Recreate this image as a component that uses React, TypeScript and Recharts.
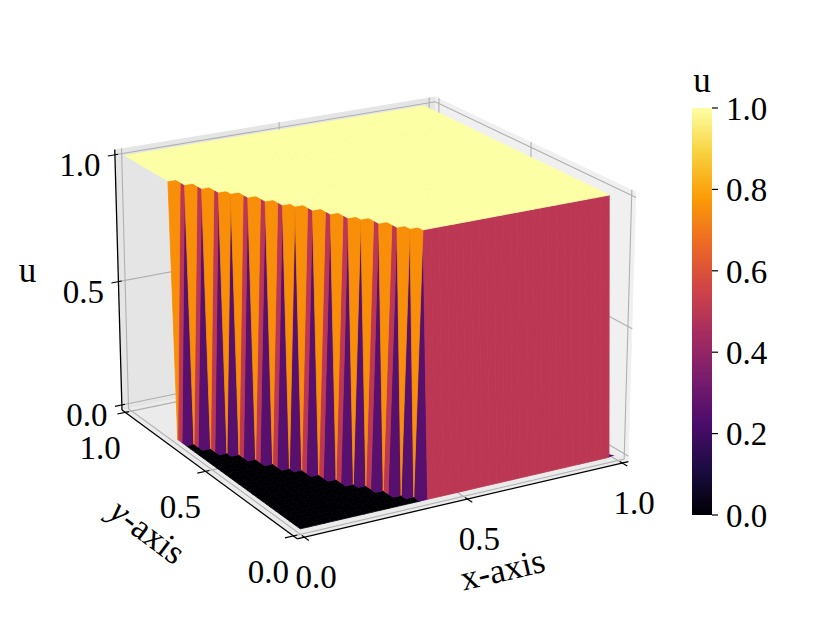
import { Bar, BarChart, Scatter, ScatterChart, XAxis, YAxis } from "recharts"

// mesh of the surface
const xGrid = [0, 0.024, 0.049, 0.073, 0.097, 0.121, 0.146, 0.17, 0.194, 0.218, 0.243, 0.267, 0.291, 0.315, 0.34, 0.364, 0.388, 0.412, 0.437, 0.461, 0.485, 0.509, 0.534, 0.558, 0.582, 0.606, 0.631, 0.655, 0.679, 0.703, 0.728, 0.752, 0.776, 0.8, 0.825, 0.849, 0.873, 0.897, 0.922, 0.946, 0.97]
const yGrid = [0, 0.032, 0.058, 0.084, 0.11, 0.136, 0.162, 0.188, 0.214, 0.24, 0.266, 0.292, 0.318, 0.344, 0.37, 0.396, 0.422, 0.448, 0.474, 0.5, 0.526, 0.552, 0.578, 0.604, 0.63, 0.656, 0.682, 0.708, 0.734, 0.76, 0.786, 0.812, 0.838, 0.864, 0.89, 0.916, 0.958, 1]
// first row (per x column) where u jumps from 0 to 1
const frontRow = [28, 26, 24, 22, 21, 19, 17, 15, 14, 12, 10, 8, 7, 5, 3, 2, 1, 1, 1, 1, 1, 1, 1, 1, 1, 1, 1, 1, 1, 1, 1, 1, 1, 1, 1, 1, 1, 1, 1, 1, 1]
// small purple sliver at the foot of the wall, far right
const sliver: [number, number, number][] = [[0.97, 0, 0.012], [0.988, 0, 0.002], [0.97, 0, 0]]

const axisTicks = [0, 0.5, 1]
const colorbarTicks = [0, 0.2, 0.4, 0.6, 0.8, 1]
const colorbarData = [{ name: "u", top: 1 }]
const infernoStops = ["#000004", "#1b0c41", "#4a0c6b", "#781c6d", "#a52c60", "#cf4446", "#ed6925", "#fb9b06", "#f7d13d", "#fcffa4"]
// face colour for 0, 1, 2, 3, 4 corners at u = 1
const faceColors = ["#000004", "#57106e", "#bc3754", "#f98e09", "#fcffa4"]

const FONT = "'Liberation Serif', serif"
const FONT_SIZE = 33
const TITLE_SIZE = 35
const WIDTH = 830
const HEIGHT = 623

// same camera as a 3d axes: elev 20, azim -120, dist 10
const ELEV = (20 * Math.PI) / 180
const AZIM = (-120 * Math.PI) / 180
const BOX = [1.1429, 1.1429, 0.8571]
const LO = -1 / 48
const HI = 1 + 1 / 48
const SCALE = 3290
const CX = 370.3
const CY = 304.7

type P3 = [number, number, number]

const w = [Math.cos(ELEV) * Math.cos(AZIM), Math.cos(ELEV) * Math.sin(AZIM), Math.sin(ELEV)]
const u = [-w[1] / Math.hypot(w[0], w[1]), w[0] / Math.hypot(w[0], w[1]), 0]
const v = [w[1] * u[2] - w[2] * u[1], w[2] * u[0] - w[0] * u[2], w[0] * u[1] - w[1] * u[0]]

function toCamera(p: P3) {
  const d = p.map((val, i) => (((val - LO) / (HI - LO)) - 0.5) * BOX[i])
  const dot = (a: number[]) => a[0] * d[0] + a[1] * d[1] + a[2] * d[2]
  return { sx: dot(u), sy: dot(v), depth: dot(w) }
}

function project(p: P3) {
  const { sx, sy, depth } = toCamera(p)
  return { px: sx / (10 - depth), py: sy / (10 - depth) }
}

type Shape3 = { pts: P3[]; fill?: string; stroke?: string; width?: number; closed?: boolean }

const uAt = (i: number, j: number) => (j >= frontRow[i] ? 1 : 0)

const surfaceFaces: Shape3[] = []
for (let i = 0; i < xGrid.length - 1; i++) {
  for (let j = 0; j < yGrid.length - 1; j++) {
    const corners: P3[] = [
      [xGrid[i], yGrid[j], uAt(i, j)],
      [xGrid[i + 1], yGrid[j], uAt(i + 1, j)],
      [xGrid[i + 1], yGrid[j + 1], uAt(i + 1, j + 1)],
      [xGrid[i], yGrid[j + 1], uAt(i, j + 1)],
    ]
    const color = faceColors[uAt(i, j) + uAt(i + 1, j) + uAt(i + 1, j + 1) + uAt(i, j + 1)]
    surfaceFaces.push({ pts: corners, fill: color, stroke: color, width: 0.8, closed: true })
  }
}
const faceDepth = (f: Shape3) => f.pts.reduce((s, p) => s + toCamera(p).depth, 0) / f.pts.length
surfaceFaces.sort((a, b) => faceDepth(a) - faceDepth(b))
surfaceFaces.push({ pts: sliver, fill: faceColors[1], closed: true })

const panes: Shape3[] = [
  { pts: [[HI, LO, LO], [HI, HI, LO], [HI, HI, HI], [HI, LO, HI]], fill: "#f0f0f0", closed: true },
  { pts: [[LO, HI, LO], [HI, HI, LO], [HI, HI, HI], [LO, HI, HI]], fill: "#e5e5e5", closed: true },
  { pts: [[LO, LO, LO], [HI, LO, LO], [HI, HI, LO], [LO, HI, LO]], fill: "#ebebeb", closed: true },
]

const grid: Shape3[] = axisTicks.flatMap((t) => [
  { pts: [[t, LO, LO], [t, HI, LO], [t, HI, HI]] as P3[], stroke: "#b0b0b0", width: 1.1 },
  { pts: [[LO, t, LO], [HI, t, LO], [HI, t, HI]] as P3[], stroke: "#b0b0b0", width: 1.1 },
  { pts: [[LO, HI, t], [HI, HI, t], [HI, LO, t]] as P3[], stroke: "#b0b0b0", width: 1.1 },
])

const axisLines: Shape3[] = [
  { pts: [[LO, LO, LO], [HI, LO, LO]], stroke: "#000", width: 1.3 },
  { pts: [[LO, LO, LO], [LO, HI, LO]], stroke: "#000", width: 1.3 },
  { pts: [[LO, HI, LO], [LO, HI, HI]], stroke: "#000", width: 1.3 },
]

const tickMarks: Shape3[] = axisTicks.flatMap((t) => [
  { pts: [[t, LO + 0.012, LO], [t, LO - 0.025, LO]] as P3[], stroke: "#000", width: 1.1 },
  { pts: [[LO + 0.012, t, LO], [LO - 0.025, t, LO]] as P3[], stroke: "#000", width: 1.1 },
  { pts: [[LO + 0.01, HI, t], [LO - 0.022, HI, t]] as P3[], stroke: "#000", width: 1.1 },
])

// flat vertex list for one Scatter, the line callback cuts it back into shapes
const flatten = (shapes: Shape3[]) => shapes.flatMap((s) => s.pts.map(project))

const drawShapes = (shapes: Shape3[]) => (props: any) => {
  const pts = props.points as { x: number; y: number }[]
  let at = 0
  return (
    <g>
      {shapes.map((s, k) => {
        const str = pts
          .slice(at, at + s.pts.length)
          .map((p) => `${p.x},${p.y}`)
          .join(" ")
        at += s.pts.length
        const common = { points: str, stroke: s.stroke ?? "none", strokeWidth: s.width ?? 0 }
        return s.closed ? <polygon key={k} {...common} fill={s.fill} /> : <polyline key={k} {...common} fill="none" />
      })}
    </g>
  )
}

const noDot = () => <g />

const tickLabel = (dx: number, dy: number) => (props: any) => (
  <text x={props.cx + dx} y={props.cy + dy + FONT_SIZE * 0.33} textAnchor="middle" fontFamily={FONT} fontSize={FONT_SIZE} fill="#000">
    {props.payload.label}
  </text>
)

const tickRows = (at: (t: number) => P3) => axisTicks.map((t) => ({ ...project(at(t)), label: t.toFixed(1) }))

const titleLabel = (dx: number, dy: number, rotate: number) => (props: any) => (
  <text
    x={props.cx + dx}
    y={props.cy + dy}
    textAnchor="middle"
    dominantBaseline="middle"
    fontFamily={FONT}
    fontSize={TITLE_SIZE}
    fill="#000"
    transform={`rotate(${rotate} ${props.cx + dx} ${props.cy + dy})`}
  >
    {props.payload.italic ? <tspan fontStyle="italic">{props.payload.italic}</tspan> : null}
    {props.payload.label}
  </text>
)

export default function App() {
  return (
    <div style={{ position: "absolute", left: 0, top: 0, width: WIDTH, height: HEIGHT, background: "#fff" }}>
      <div style={{ position: "absolute", left: 0, top: 0 }}>
        <ScatterChart width={WIDTH} height={HEIGHT} margin={{ top: 0, right: 0, bottom: 0, left: 0 }}>
          <XAxis type="number" dataKey="px" domain={[-CX / SCALE, (WIDTH - CX) / SCALE]} hide />
          <YAxis type="number" dataKey="py" domain={[(CY - HEIGHT) / SCALE, CY / SCALE]} hide />
          {[panes, grid, surfaceFaces, axisLines, tickMarks].map((shapes, k) => (
            <Scatter key={k} data={flatten(shapes)} line={drawShapes(shapes)} shape={noDot} isAnimationActive={false} />
          ))}
          <Scatter data={tickRows((t) => [t, LO, LO])} shape={tickLabel(12, 40)} isAnimationActive={false} />
          <Scatter data={tickRows((t) => [LO, t, LO])} shape={tickLabel(-25, 36)} isAnimationActive={false} />
          <Scatter data={tickRows((t) => [LO, HI, t])} shape={tickLabel(-35, 10)} isAnimationActive={false} />
          <Scatter data={[{ ...project([0.5, LO, LO]), label: "x-axis" }]} shape={titleLabel(36, 74, -13)} isAnimationActive={false} />
          <Scatter data={[{ ...project([LO, 0.5, LO]), label: "-axis", italic: "y" }]} shape={titleLabel(-60, 63, 37)} isAnimationActive={false} />
          <Scatter data={[{ ...project([LO, HI, 0.5]), label: "u" }]} shape={titleLabel(-91, -8, 0)} isAnimationActive={false} />
        </ScatterChart>
      </div>
      <div style={{ position: "absolute", left: 692, top: 48 }}>
        <BarChart width={120} height={497} data={colorbarData} barCategoryGap={0} margin={{ top: 0, right: 0, bottom: 30, left: 0 }}>
          <defs>
            <linearGradient id="infernoBar" x1="0" y1="1" x2="0" y2="0">
              {infernoStops.map((c, i) => (
                <stop key={c} offset={i / (infernoStops.length - 1)} stopColor={c} />
              ))}
            </linearGradient>
          </defs>
          <XAxis
            dataKey="name"
            orientation="top"
            height={60}
            axisLine={false}
            tickLine={false}
            tickSize={0}
            tickMargin={16}
            tick={{ fontFamily: FONT, fontSize: TITLE_SIZE, fill: "#000" }}
          />
          <YAxis
            orientation="right"
            width={100}
            domain={[0, 1]}
            ticks={colorbarTicks}
            interval={0}
            axisLine={false}
            tickSize={6}
            tickMargin={8}
            tickLine={{ stroke: "#000", strokeWidth: 1.2 }}
            tickFormatter={(t: number) => t.toFixed(1)}
            tick={{ fontFamily: FONT, fontSize: FONT_SIZE, fill: "#000" }}
          />
          <Bar dataKey="top" fill="url(#infernoBar)" isAnimationActive={false} />
        </BarChart>
      </div>
    </div>
  )
}
